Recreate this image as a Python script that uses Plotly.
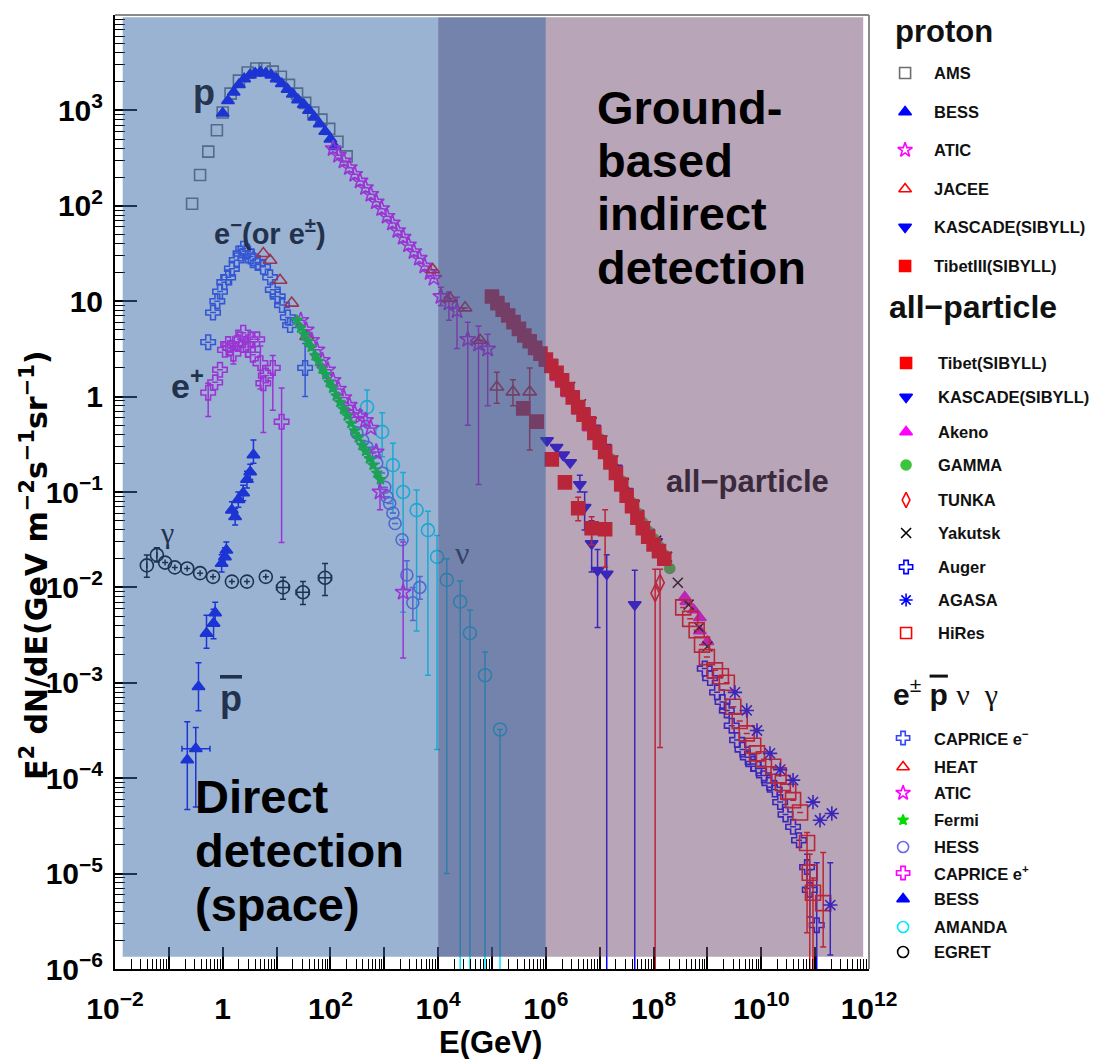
import plotly.graph_objects as go

W, H = 1094, 1059
# plot frame (pixels)
L, R, T, B = 115, 869, 15, 969

# ---------------- proton ----------------
ams_E = [0.27, 0.38, 0.54, 0.78, 1.0, 1.4, 2.0, 2.9, 4.2, 6.0, 8.5, 12, 17, 24, 34, 48, 68, 95, 135, 200]
ams_F = [105, 210, 370, 620, 950, 1500, 2050, 2500, 2750, 2750, 2550, 2250, 1850, 1500, 1200, 950, 800, 640, 470, 330]

bess_p_E = [1.0, 1.25, 1.6, 2.0, 2.5, 3.2, 4.0, 5.0, 6.3, 8.0, 10, 12.5, 16, 20, 25, 32, 40, 50, 63, 80, 100, 120]
bess_p_F = [933, 1260, 1550, 1860, 2140, 2340, 2450, 2510, 2450, 2340, 2140, 1900, 1660, 1480, 1290, 1150, 1000, 850, 720, 600, 500, 417]

atic_p_E = [112, 141, 178, 224, 282, 355, 447, 562, 708, 891, 1122, 1413, 1778, 2239, 2818, 3548,
            4467, 5623, 7079, 8318, 11220, 15850, 22390, 35480, 56230, 83180]
atic_p_F = [398, 339, 295, 251, 214, 182, 155, 132, 110, 93.3, 77.6, 66.1, 55.0, 46.8, 38.9, 33.1,
            28.2, 23.4, 20.0, 17.4, 11.2, 9.55, 7.94, 3.98, 3.55, 3.16]
atic_p_lo = [None] * 20 + [9.0, 6.3, 3.2, 0.5, 0.12, 0.8]
atic_p_hi = [None] * 20 + [14.0, 12.5, 11.0, 6.0, 5.5, 4.5]

jacee_E = [7943, 16600, 31600, 60300, 123000, 245000, 501000]
jacee_F = [21.4, 10.7, 8.51, 3.89, 1.26, 1.12, 1.12]
jacee_lo = [None, None, None, None, 0.85, 0.80, 0.275]
jacee_hi = [None, None, None, None, 1.80, 1.50, 2.00]

kascade_p_E = [1.05e6, 1.58e6, 2.09e6, 2.82e6, 4.27e6, 5.25e6, 7.08e6, 9.12e6, 1.35e7, 4.47e7]
kascade_p_F = [0.347, 0.295, 0.245, 0.204, 0.120, 0.0692, 0.0288, 0.0151, 0.0138, 0.0066]
kascade_p_lo = [None, None, None, None, 0.10, 0.040, 0.0145, 0.0038, 1e-8, 1e-8]
kascade_p_hi = [None, None, None, None, 0.15, 0.100, 0.050, 0.025, 0.022, 0.0151]

tibet3_E = [3.8e5, 6.76e5, 1.29e6, 2.26e6, 3.98e6, 7.08e6, 1.26e7]
tibet3_F = [0.753, 0.546, 0.220, 0.126, 0.0676, 0.0417, 0.0407]
tibet3_lo = [None, None, None, None, 0.050, 0.028, 0.0163]
tibet3_hi = [None, None, None, None, 0.088, 0.055, 0.065]

# ---------------- all-particle ----------------
tibet_E = [1.0e5, 1.26e5, 1.58e5, 2.0e5, 2.51e5, 3.16e5, 3.98e5, 5.01e5, 6.31e5, 7.94e5,
           1.0e6, 1.26e6, 1.58e6, 2.0e6, 2.51e6, 3.16e6, 3.98e6, 5.01e6, 6.31e6, 7.94e6,
           1.0e7, 1.26e7, 1.58e7, 2.0e7, 2.51e7, 3.16e7, 3.98e7, 5.01e7, 6.31e7, 7.94e7,
           1.0e8, 1.26e8, 1.58e8]
tibet_F = [11.2, 9.55, 8.13, 7.08, 6.03, 5.13, 4.37, 3.80, 3.24, 2.82,
           2.45, 2.09, 1.78, 1.48, 1.20, 0.977, 0.776, 0.646, 0.525, 0.417,
           0.331, 0.263, 0.204, 0.158, 0.120, 0.0912, 0.0708, 0.0537, 0.0417, 0.0339,
           0.0282, 0.0240, 0.0200]

kascade_all_E = [1.26e6, 2.0e6, 3.16e6, 5.01e6, 7.94e6, 1.26e7, 2.0e7, 3.16e7, 5.01e7, 7.94e7, 1.12e8]
kascade_all_F = [2.29, 1.62, 1.07, 0.708, 0.468, 0.295, 0.178, 0.102, 0.0603, 0.0380, 0.0302]

akeno_E = [1.0e6, 1.58e6, 2.51e6, 3.98e6, 6.31e6, 1.0e7, 3.8e8, 4.07e8, 5.6e8, 7.24e8, 7.24e8, 1.0e9]
akeno_F = [2.24, 1.58, 1.07, 0.708, 0.468, 0.302, 0.0079, 0.0071, 0.0058, 0.0048, 0.0035, 0.0027]

gamma_E = [1.0e7, 1.58e7, 2.51e7, 3.98e7, 5.01e7, 6.31e7, 7.94e7, 1.0e8, 1.26e8, 1.58e8, 2.0e8]
gamma_F = [0.363, 0.224, 0.132, 0.0776, 0.0603, 0.0479, 0.0389, 0.0324, 0.0269, 0.0219, 0.0158]

tunka_E = [1.07e8, 1.32e8]
tunka_F = [0.0087, 0.0112]
tunka_lo = [1e-8, 2.1e-4]
tunka_hi = [0.0155, 0.0155]

yakutsk_E = [2.82e6, 4.47e6, 7.08e6, 1.12e7, 1.78e7, 2.82e7, 4.47e7, 7.08e7, 1.12e8, 1.78e8, 2.82e8, 4.47e8, 7.08e8, 1.0e9]
yakutsk_F = [1.26, 0.832, 0.537, 0.347, 0.214, 0.123, 0.0724, 0.0437, 0.0309, 0.0209, 0.0112, 0.0066, 0.0038, 0.0024]

auger_E = [8.91e8, 1.12e9, 1.51e9, 1.91e9, 2.29e9, 2.82e9, 3.55e9, 4.47e9, 5.62e9, 7.08e9, 8.91e9,
           1.12e10, 1.41e10, 1.78e10, 2.24e10, 2.82e10, 3.89e10, 5.01e10, 7.08e10, 7.94e10, 1.07e11]
auger_F = [1.41e-3, 1.12e-3, 7.94e-4, 6.31e-4, 5.13e-4, 3.55e-4, 2.51e-4, 2.0e-4, 1.66e-4, 1.41e-4, 1.26e-4,
           1.07e-4, 8.91e-5, 7.59e-5, 5.62e-5, 4.17e-5, 3.09e-5, 2.24e-5, 1.17e-5, 6.76e-6, 2.88e-6]
auger_lo = [None] * 18 + [7.0e-6, 3.5e-6, 1e-8]
auger_hi = [None] * 18 + [1.6e-5, 1.1e-5, 1.3e-5]

agasa_E = [3.24e9, 5.37e9, 8.32e9, 1.45e10, 2.24e10, 3.89e10, 9.12e10, 1.23e11, 2.04e11, 1.91e11]
agasa_F = [7.94e-4, 5.13e-4, 3.16e-4, 1.82e-4, 1.23e-4, 9.55e-5, 5.62e-5, 3.63e-5, 4.27e-5, 4.68e-6]
agasa_lo = [None] * 9 + [1.4e-6]
agasa_hi = [None] * 9 + [1.3e-5]

hires_E = [3.55e8, 4.79e8, 6.31e8, 7.94e8, 9.77e8, 1.38e9, 1.78e9, 2.29e9, 3.02e9, 3.98e9, 5.37e9, 7.08e9,
           8.32e9, 1.12e10, 1.66e10, 2.09e10, 2.51e10, 3.16e10, 3.89e10, 5.25e10, 7.08e10, 7.94e10, 9.12e10, 1.41e11]
hires_F = [6.17e-3, 4.68e-3, 3.55e-3, 2.51e-3, 1.86e-3, 1.35e-3, 1.17e-3, 1.0e-3, 5.62e-4, 3.98e-4, 2.95e-4, 2.19e-4,
           1.82e-4, 1.58e-4, 1.32e-4, 1.07e-4, 8.91e-5, 7.24e-5, 5.89e-5, 4.37e-5, 2.09e-5, 1.02e-5, 6.31e-6, 4.90e-6]
hires_lo = [None] * 20 + [2.4e-6, 1e-8, 1e-8, 1.7e-6]
hires_hi = [None] * 20 + [2.7e-5, 1.6e-5, 9.0e-6, 1.66e-5]

# ---------------- electrons, antiprotons, neutrinos, gammas ----------------
caprice_em_E = [0.537, 0.661, 0.794, 0.891, 1.07, 1.26, 1.48, 1.82, 2.14, 2.40, 2.82, 3.31, 3.63, 4.47,
                5.62, 7.59, 8.51, 10.5, 12.6, 16.2, 17.8, 33.9]
caprice_em_F = [3.72, 7.59, 10.0, 12.6, 15.8, 17.8, 21.9, 26.9, 31.6, 35.5, 33.1, 29.5, 26.9, 25.1,
                22.9, 17.8, 13.2, 11.2, 9.12, 6.76, 5.62, 2.0]
caprice_em_lo = [None] * 21 + [1.0]
caprice_em_hi = [None] * 21 + [3.6]

heat_E = [5.68, 7.55, 11.6, 19.1, 36.3]
heat_F = [31.6, 26.9, 16.6, 9.55, 4.27]

atic_e_E = [28.2, 35.5, 44.7, 56.2, 70.8, 89.1, 112, 141, 178, 224, 282, 355, 447, 562, 708, 832, 2240]
atic_e_F = [6.31, 5.01, 3.89, 3.09, 2.40, 1.91, 1.48, 1.20, 0.977, 0.813, 0.676, 0.617, 0.562, 0.468,
            0.263, 0.10, 0.0089]
atic_e_lo = [None] * 15 + [0.065, 0.00182]
atic_e_hi = [None] * 15 + [0.13, 0.030]

fermi_E = [24, 28, 33, 38, 44, 52, 60, 70, 82, 95, 110, 128, 150, 175, 205, 240, 280, 330, 385, 450,
           530, 620, 730, 850]
fermi_F = [6.31, 5.25, 4.47, 3.80, 3.31, 2.69, 2.34, 1.95, 1.70, 1.41, 1.23, 1.02, 0.87, 0.74, 0.63,
           0.525, 0.437, 0.372, 0.309, 0.269, 0.224, 0.191, 0.158, 0.135]

hess_E = [309, 398, 479, 617, 724, 912, 1023, 1122, 1259, 1445, 1585, 2138, 2630, 3388, 4571]
hess_F = [0.417, 0.347, 0.295, 0.257, 0.200, 0.158, 0.112, 0.0891, 0.0759, 0.0603, 0.0468, 0.0316,
          0.0135, 0.0069, 0.0100]
hess_lo = [None] * 12 + [0.0095, 0.0045, 0.0075]
hess_hi = [None] * 12 + [0.019, 0.010, 0.013]

caprice_ep_E = [0.537, 0.724, 0.891, 1.10, 1.26, 1.38, 1.58, 1.82, 2.09, 2.40, 2.69, 2.95, 3.31, 3.63,
                4.37, 5.01, 5.68, 6.31, 8.51, 12.4]
caprice_ep_F = [1.10, 1.41, 1.91, 3.09, 3.55, 3.24, 2.82, 3.63, 3.98, 4.68, 3.55, 3.09, 3.98, 2.75,
                3.98, 2.24, 1.38, 1.66, 2.0, 0.545]
caprice_ep_lo = [0.62, None, None, None, None, None, 2.2, None, None, None, None, None, None, None,
                 None, 1.2, 0.42, None, 0.72, 0.0295]
caprice_ep_hi = [1.38, None, None, None, None, None, 3.6, None, None, None, None, None, None, None,
                 None, 3.4, 1.60, None, 2.7, 1.23]

bess_pbar_E = [0.22, 0.316, 0.355, 0.50, 0.676, 0.724, 0.955, 1.10, 1.17, 1.48, 1.70, 1.95, 2.40, 2.82, 3.24, 3.72]
bess_pbar_F = [1.55e-4, 2.04e-4, 9.1e-4, 3.3e-3, 4.2e-3, 5.4e-3, 0.0178, 0.0209, 0.0245, 0.0646,
               0.0550, 0.0832, 0.0977, 0.135, 0.162, 0.245]
bess_pbar_lo = [4.7e-5, 5.0e-5, 5.1e-4, 2.3e-3, 2.9e-3, 4.0e-3, 0.0145, 0.017, 0.020, 0.052, 0.045,
                0.069, 0.081, 0.11, 0.135, 0.20]
bess_pbar_hi = [3.9e-4, 3.4e-4, 1.62e-3, 5.1e-3, 5.9e-3, 7.0e-3, 0.022, 0.026, 0.030, 0.079, 0.067,
                0.10, 0.118, 0.165, 0.195, 0.35]
bess_pbar_Elo = [None, 0.175] + [None] * 14
bess_pbar_Ehi = [None, 0.58] + [None] * 14

amanda_E = [479, 912, 1445, 2239, 3981, 6457, 9550, 14450, 25700, 38900, 74100, 141000]
amanda_F = [0.776, 0.427, 0.191, 0.100, 0.0646, 0.0398, 0.0209, 0.0120, 0.00708, 0.00331, 0.00120, 3.24e-4]
amanda_lo = [0.48, 0.234, 0.060, 0.0055, 0.0035, 0.0012, 2e-4, 1e-5, 1e-8, 1e-8, 1e-8, 1e-8]
amanda_hi = [1.17, 0.676, 0.324, 0.16, 0.105, 0.063, 0.035, 0.020, 0.0117, 0.0058, 0.0021, None]

egret_E = [0.039, 0.060, 0.085, 0.129, 0.219, 0.380, 0.661, 1.48, 2.82, 6.31, 13.2, 30.9, 79.4]
egret_F = [0.0170, 0.0219, 0.0182, 0.0162, 0.0158, 0.0141, 0.0129, 0.0115, 0.0115, 0.0129, 0.0100, 0.0089, 0.0126]
egret_lo = [0.0128, 0.0185, None, None, None, None, None, None, None, None, 0.0075, 0.0066, 0.0082]
egret_hi = [0.0218, 0.0260, None, None, None, None, None, None, None, None, 0.0128, 0.0115, 0.0178]
egret_Elo = [None] * 10 + [10.0, 23.0, 60.0]
egret_Ehi = [None] * 10 + [17.0, 40.0, 105.0]

# axis ticks
x_decades = list(range(-2, 13))
x_ticktext = ["10<sup>−2</sup>", "", "1", "", "10<sup>2</sup>", "", "10<sup>4</sup>", "",
              "10<sup>6</sup>", "", "10<sup>8</sup>", "", "10<sup>10</sup>", "", "10<sup>12</sup>"]
y_decades = list(range(-6, 5))
y_ticktext = ["10<sup>−6</sup>", "10<sup>−5</sup>", "10<sup>−4</sup>", "10<sup>−3</sup>", "10<sup>−2</sup>",
              "10<sup>−1</sup>", "1", "10", "10<sup>2</sup>", "10<sup>3</sup>", "10<sup>4</sup>"]

# marker styles: symbol, colour, size
STY = {
    "AMS": ("square-open", "#6e6e6e", 11),
    "BESS": ("triangle-up", "#0000ff", 11),
    "ATIC": ("star-open", "#ff00ff", 12),
    "JACEE": ("triangle-up-open", "#ff0000", 12),
    "KASCADE": ("triangle-down", "#0000ff", 11),
    "Tibet": ("square", "#ff0000", 13),
    "Akeno": ("triangle-up", "#ff00ff", 11),
    "GAMMA": ("circle", "#3cc43c", 10),
    "TUNKA": ("diamond-tall-open", "#ff0000", 12),
    "Yakutsk": ("x-thin-open", "#000000", 10),
    "Auger": ("cross-open", "#0000ff", 12),
    "AGASA": ("asterisk-open", "#0000ff", 12),
    "HiRes": ("square-open", "#ff0000", 15),
    "CAPRICEm": ("cross-open", "#3344ff", 12),
    "HEAT": ("triangle-up-open", "#ff0000", 12),
    "Fermi": ("star", "#00dd00", 8),
    "HESS": ("circle-open", "#6a6af0", 12),
    "CAPRICEp": ("cross-open", "#ff00ff", 12),
    "AMANDA": ("circle-open", "#00e8ff", 13),
    "EGRET": ("circle-open", "#000000", 13),
}

fig = go.Figure()


def diffs(F, lo, hi):
    up = [(h - f) if h is not None else 0 for f, h in zip(F, hi)]
    dn = [(f - l) if l is not None else 0 for f, l in zip(F, lo)]
    return up, dn


def series(E, F, key, lo=None, hi=None, elo=None, ehi=None):
    sym, col, size = STY[key]
    tr = dict(x=E, y=F, mode="markers",
              marker=dict(symbol=sym, color=col, size=size, line=dict(color=col, width=1.6)),
              showlegend=False, hoverinfo="skip", cliponaxis=True)
    if lo is not None:
        up, dn = diffs(F, lo, hi)
        tr["error_y"] = dict(type="data", symmetric=False, array=up, arrayminus=dn,
                             color=col, thickness=1.5, width=3)
    if elo is not None:
        up, dn = diffs(E, elo, ehi)
        tr["error_x"] = dict(type="data", symmetric=False, array=up, arrayminus=dn,
                             color=col, thickness=1.5, width=3)
    fig.add_trace(go.Scatter(**tr))


# low-energy species
series(egret_E, egret_F, "EGRET", egret_lo, egret_hi, egret_Elo, egret_Ehi)
series(bess_pbar_E, bess_pbar_F, "BESS", bess_pbar_lo, bess_pbar_hi, bess_pbar_Elo, bess_pbar_Ehi)
series(caprice_ep_E, caprice_ep_F, "CAPRICEp", caprice_ep_lo, caprice_ep_hi)
series(amanda_E, amanda_F, "AMANDA", amanda_lo, amanda_hi)
series(caprice_em_E, caprice_em_F, "CAPRICEm", caprice_em_lo, caprice_em_hi)
series(heat_E, heat_F, "HEAT")
series(hess_E, hess_F, "HESS", hess_lo, hess_hi)
series(atic_e_E, atic_e_F, "ATIC", atic_e_lo, atic_e_hi)
series(fermi_E, fermi_F, "Fermi")

# protons
series(ams_E, ams_F, "AMS")
series(bess_p_E, bess_p_F, "BESS")
series(atic_p_E, atic_p_F, "ATIC", atic_p_lo, atic_p_hi)
series(jacee_E, jacee_F, "JACEE", jacee_lo, jacee_hi)
series(kascade_p_E, kascade_p_F, "KASCADE", kascade_p_lo, kascade_p_hi)
series(tibet3_E, tibet3_F, "Tibet", tibet3_lo, tibet3_hi)

# all-particle
series(akeno_E, akeno_F, "Akeno")
series(kascade_all_E, kascade_all_F, "KASCADE")
series(yakutsk_E, yakutsk_F, "Yakutsk")
series(gamma_E, gamma_F, "GAMMA")
series(tibet_E, tibet_F, "Tibet")
series(tunka_E, tunka_F, "TUNKA", tunka_lo, tunka_hi)
series(auger_E, auger_F, "Auger", auger_lo, auger_hi)
series(hires_E, hires_F, "HiRes", hires_lo, hires_hi)
series(agasa_E, agasa_F, "AGASA", agasa_lo, agasa_hi)

# ---------------- legend (separate pixel-space axes) ----------------
legend_rows = [
    ("AMS", "AMS", 73, 905, 932), ("BESS", "BESS", 112, 905, 932), ("ATIC", "ATIC", 150, 905, 932),
    ("JACEE", "JACEE", 189, 905, 932), ("KASCADE", "KASCADE(SIBYLL)", 227, 905, 932),
    ("Tibet", "TibetIII(SIBYLL)", 266, 905, 932),
    ("Tibet", "Tibet(SIBYLL)", 363, 906, 936), ("KASCADE", "KASCADE(SIBYLL)", 397, 906, 936),
    ("Akeno", "Akeno", 432, 906, 936), ("GAMMA", "GAMMA", 465, 906, 936), ("TUNKA", "TUNKA", 500, 906, 936),
    ("Yakutsk", "Yakutsk", 533, 906, 936), ("Auger", "Auger", 567, 906, 936), ("AGASA", "AGASA", 600, 906, 936),
    ("HiRes", "HiRes", 633, 906, 936),
    ("CAPRICEm", "CAPRICE e<sup>−</sup>", 738, 903, 932), ("HEAT", "HEAT", 767, 903, 932),
    ("ATIC", "ATIC", 793, 903, 932), ("Fermi", "Fermi", 820, 903, 932), ("HESS", "HESS", 847, 903, 932),
    ("CAPRICEp", "CAPRICE e<sup>+</sup>", 873, 903, 932), ("BESS", "BESS", 899, 903, 932),
    ("AMANDA", "AMANDA", 927, 903, 932), ("EGRET", "EGRET", 952, 903, 932),
]

annotations = []
for key, text, y, mx, tx in legend_rows:
    sym, col, size = STY[key]
    fig.add_trace(go.Scatter(x=[mx], y=[y], mode="markers", xaxis="x2", yaxis="y2",
                             marker=dict(symbol=sym, color=col, size=min(size, 11),
                                         line=dict(color=col, width=1.6)),
                             showlegend=False, hoverinfo="skip"))
    annotations.append(dict(x=tx, y=y, xref="x2", yref="y2", text=text, showarrow=False,
                            xanchor="left", yanchor="middle",
                            font=dict(family="Liberation Sans", size=16.5, color="#111111", weight="bold")))

for text, x, y, fs in [("proton", 893, 31, 31), ("all−particle", 887, 307, 32)]:
    annotations.append(dict(x=x, y=y, xref="x2", yref="y2", text=text, showarrow=False,
                            xanchor="left", yanchor="middle",
                            font=dict(family="Liberation Sans", size=fs, color="#111111", weight="bold")))
annotations.append(dict(
    x=891, y=692, xref="x2", yref="y2", showarrow=False, xanchor="left", yanchor="middle",
    text="<b>e</b><sup>±</sup> <b><span style='text-decoration:overline'>p</span></b> "
         "<span style='font-family:Liberation Serif'>ν  γ</span>",
    font=dict(family="Liberation Sans", size=30, color="#111111")))


def px(x):
    return x / W


def py(y):
    return 1 - y / H


def label(text, x, y, size, color, family="Liberation Sans", bold=True, anchor="center"):
    annotations.append(dict(x=px(x), y=py(y), xref="paper", yref="paper", text=text, showarrow=False,
                            xanchor=anchor, yanchor="middle",
                            font=dict(family=family, size=size, color=color,
                                      weight="bold" if bold else "normal")))


# species labels inside the plot
label("p", 204, 92, 36, "#26364f")
label("e<sup>−</sup>(or e<sup>±</sup>)", 212, 232, 29, "#22324c", anchor="left")
label("e<sup>+</sup>", 187, 383, 34, "#22324c")
label("γ", 167, 532, 30, "#22324c", family="Liberation Serif", bold=False)
label("<span style='text-decoration:overline'>p</span>", 231, 698, 36, "#22324c")
label("ν", 462, 553, 32, "#34426a", family="Liberation Serif", bold=False)
label("all−particle", 664, 482, 31, "#3a2a3c", anchor="left")

# detection regimes
for i, t in enumerate(["Ground-", "based", "indirect", "detection"]):
    label(t, 595, 107 + i * 53.5, 47, "#000000", anchor="left")
for i, t in enumerate(["Direct", "detection", "(space)"]):
    label(t, 193, 796 + i * 54, 47, "#000000", anchor="left")

# axis titles
label("E(GeV)", 490, 1042, 31, "#000000")
annotations.append(dict(x=px(34), y=py(565), xref="paper", yref="paper", textangle=-90, showarrow=False,
                        text="E<sup>2</sup> dN/dE(GeV m<sup>−2</sup>s<sup>−1</sup>sr<sup>−1</sup>)",
                        xanchor="center", yanchor="middle",
                        font=dict(family="DejaVu Sans", size=30, color="#000000", weight="bold")))

# translucent detection-regime bands laid over the data
shapes = [
    dict(type="rect", xref="x", yref="y", x0=0.0139, x1=1e4, y0=1.34e-6, y1=9.5e3,
         fillcolor="rgba(53,103,167,0.5)", line=dict(width=0), layer="above"),
    dict(type="rect", xref="x", yref="y", x0=1e4, x1=1e6, y0=1.34e-6, y1=9.5e3,
         fillcolor="rgba(64,85,140,0.73)", line=dict(width=0), layer="above"),
    dict(type="rect", xref="x", yref="y", x0=1e6, x1=7.8e11, y0=1.34e-6, y1=9.5e3,
         fillcolor="rgba(115,75,113,0.5)", line=dict(width=0), layer="above"),
    # top and right edges of the frame
    dict(type="line", xref="paper", yref="paper", x0=px(L), x1=px(R), y0=py(T), y1=py(T),
         line=dict(color="#8a8a8a", width=2), layer="above"),
    dict(type="line", xref="paper", yref="paper", x0=px(R), x1=px(R), y0=py(T), y1=py(B),
         line=dict(color="#8a8a8a", width=2), layer="above"),
]

tickfont = dict(family="Liberation Sans", size=30, color="#000000", weight="bold")
fig.update_layout(
    width=W, height=H, margin=dict(l=0, r=0, t=0, b=0, autoexpand=False),
    paper_bgcolor="white", plot_bgcolor="white",
    xaxis=dict(type="log", range=[-2, 12], domain=[L / W, R / W], anchor="y", automargin=False,
               tickmode="array", tickvals=[10.0 ** d for d in x_decades], ticktext=x_ticktext,
               ticks="inside", ticklen=22, tickwidth=1.5, tickcolor="#000000",
               minor=dict(ticks="inside", ticklen=10, tickwidth=1, tickcolor="#000000", dtick="D1"),
               showline=True, linecolor="#000000", linewidth=2, mirror=False,
               showgrid=False, zeroline=False, tickfont=tickfont, ticklabelstandoff=12),
    yaxis=dict(type="log", range=[-6, 4], domain=[1 - B / H, 1 - T / H], anchor="x", automargin=False,
               tickmode="array", tickvals=[10.0 ** d for d in y_decades], ticktext=y_ticktext,
               ticks="inside", ticklen=22, tickwidth=1.5, tickcolor="#000000",
               minor=dict(ticks="inside", ticklen=10, tickwidth=1, tickcolor="#000000", dtick="D1"),
               showline=True, linecolor="#000000", linewidth=2, mirror=False,
               showgrid=False, zeroline=False, tickfont=tickfont, ticklabelstandoff=4),
    xaxis2=dict(domain=[R / W + 0.001, 1], range=[R + 1, W], anchor="y2", visible=False,
                fixedrange=True, automargin=False),
    yaxis2=dict(domain=[0, 1], range=[H, 0], anchor="x2", visible=False, fixedrange=True, automargin=False),
    annotations=annotations, shapes=shapes, showlegend=False,
)

fig.write_html("out.html")
